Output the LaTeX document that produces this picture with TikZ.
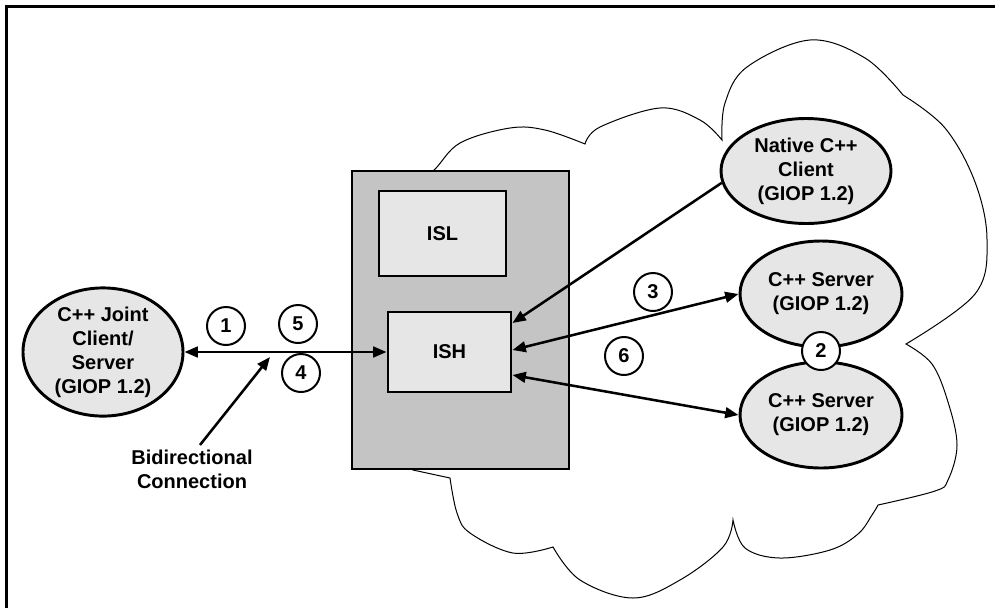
\documentclass[tikz,border=0pt]{standalone}
\usepackage{fontspec}
\setmainfont{Liberation Sans}
\usetikzlibrary{shapes.geometric,arrows.meta}
\definecolor{lightfill}{RGB}{230,230,230}
\definecolor{hostfill}{RGB}{196,196,196}
\tikzset{
  lbl/.style={font=\bfseries\fontsize{15}{18}\selectfont, align=center},
  proc/.style={ellipse, draw, line width=2.2pt, fill=lightfill, inner sep=0pt, lbl},
  box/.style={rectangle, draw, line width=2.2pt, fill=lightfill, inner sep=0pt, lbl},
  hostbox/.style={rectangle, draw, line width=2.2pt, fill=hostfill, inner sep=0pt},
  numc/.style={circle, draw, line width=1.5pt, fill=white, inner sep=0pt, minimum size=28.5pt, lbl},
  conn/.style={line width=1.9pt},
  cloudline/.style={line width=0.75pt, line join=miter},
  >={Triangle[length=10pt,width=8pt]}
}
\begin{document}
\begin{tikzpicture}[x=0.75pt, y=-0.75pt]
\useasboundingbox (0,0) rectangle (995,608);
% frame (top and left only)
\draw[line width=2.25pt] (6.5,608) -- (6.5,6.5) -- (995,6.5);
% cloud
\draw[cloudline]
  plot[smooth, tension=0.6] coordinates {(405,190) (433,171) (460,143) (510,128) (545,130) (585,144)}
  -- plot[smooth, tension=0.6] coordinates {(585,144) (600,127) (660,108) (700,120) (722,140)}
  -- plot[smooth, tension=0.6] coordinates {(722,140) (725,103) (747,67) (810,40) (865,58) (903,95)}
  -- plot[smooth, tension=0.6] coordinates {(903,95) (945,128) (975,182) (987,240) (975,294) (906,344)}
  -- plot[smooth, tension=0.6] coordinates {(906,344) (932,364) (948,402) (957,445) (948,480) (935,491) (878,505)}
  -- plot[smooth, tension=0.6] coordinates {(878,505) (872,515) (858,534) (830,550) (780,558) (745,548) (733,520)}
  -- plot[smooth, tension=0.6] coordinates {(733,520) (723,547) (680,580) (633,598) (580,580) (553,547)}
  -- plot[smooth, tension=0.6] coordinates {(553,547) (513,553) (470,533) (457,513) (450,478)}
  -- (413,470) -- (400,460);
% host box
\node[hostbox, minimum width=162.75pt, minimum height=223.5pt] (host) at (460.5,320) {};
\node[box, minimum width=95.25pt, minimum height=63.75pt] (ISL) at (442.5,233.5) {ISL};
\node[box, minimum width=92.25pt, minimum height=60pt] (ISH) at (449.5,352) {ISH};
% processes
\node[proc, minimum width=120pt, minimum height=94.5pt] (joint) at (103,352) {C++ Joint\\Client/\\Server\\(GIOP 1.2)};
\node[proc, minimum width=127.5pt, minimum height=78.75pt] (native) at (806,171) {Native C++\\Client\\(GIOP 1.2)};
\node[proc, minimum width=121.5pt, minimum height=79.5pt] (srvA) at (821,294) {C++ Server\\(GIOP 1.2)};
\node[proc, minimum width=121.5pt, minimum height=79.5pt] (srvB) at (821,415) {C++ Server\\(GIOP 1.2)};
% connectors
\draw[conn, <->] (joint.east) -- (ISH.west);
\draw[conn, ->] (native.188) -- ([yshift=21.75pt]ISH.east);
\draw[conn, <->] ([yshift=1.5pt]ISH.east) -- (srvA.west);
\draw[conn, <->] ([yshift=-17.25pt]ISH.east) -- (srvB.west);
% bidirectional label
\node[lbl] (bidir) at (192,469) {Bidirectional\\Connection};
\coordinate (bidirtip) at (270,357);
\draw[conn, ->] ([xshift=6pt]bidir.north) -- (bidirtip);
% numbered circles
\node[numc] (n1) at (226,326) {1};
\node[numc] (n5) at (298,324) {5};
\node[numc] (n4) at (301,373) {4};
\node[numc] (n3) at (653,292) {3};
\node[numc] (n6) at (624,356) {6};
\node[numc] (n2) at (821,351) {2};
\end{tikzpicture}
\end{document}
